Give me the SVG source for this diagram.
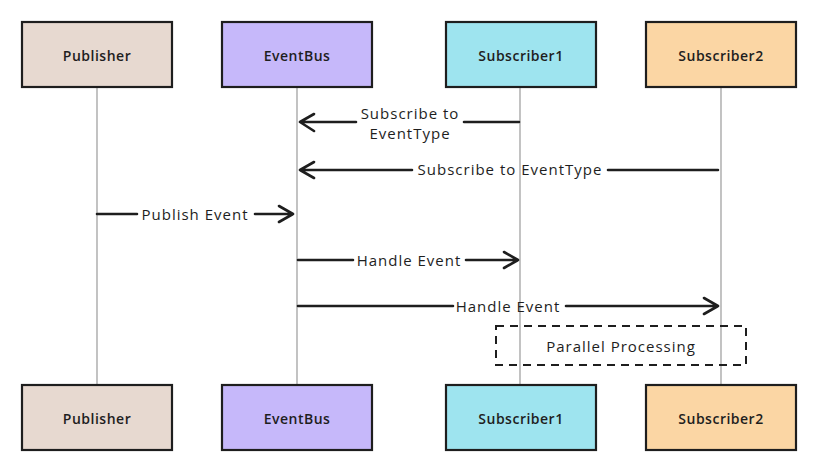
<svg xmlns="http://www.w3.org/2000/svg" width="819" height="471" viewBox="0 0 819 471">
<style>
.box{stroke:#1e1e1e;stroke-width:2.2}
.lbl{font-family:"Open Sans","Liberation Sans",sans-serif;font-size:14px;font-weight:600;fill:#1e1e1e;text-anchor:middle;dominant-baseline:central;letter-spacing:0.5px}
.life{stroke:#9a9a9a;stroke-width:1.2}
.msg{stroke:#1e1e1e;stroke-width:2.6;fill:none;stroke-linecap:round;stroke-linejoin:round}
.mt{font-family:"Open Sans","Liberation Sans",sans-serif;font-size:15px;fill:#1e1e1e;text-anchor:middle;dominant-baseline:central;letter-spacing:1px}
.note{stroke:#1e1e1e;stroke-width:2;fill:none;stroke-dasharray:8 6}
</style>
<rect width="819" height="471" fill="#ffffff"/>
<g id="lifelines">
<line class="life" x1="97" y1="87" x2="97" y2="385"/>
<line class="life" x1="297" y1="87" x2="297" y2="385"/>
<line class="life" x1="520" y1="87" x2="520" y2="385"/>
<line class="life" x1="721" y1="87" x2="721" y2="385"/>
</g>
<g id="publisher">
<rect class="box" x="22" y="22" width="150" height="65" fill="#e7d9d0"/>
<text class="lbl" x="97" y="55">Publisher</text>
</g>
<g id="eventbus">
<rect class="box" x="222" y="22" width="150" height="65" fill="#c6b8fa"/>
<text class="lbl" x="297" y="55">EventBus</text>
</g>
<g id="subscriber1">
<rect class="box" x="446" y="22" width="150" height="65" fill="#9ee4ef"/>
<text class="lbl" x="521" y="55">Subscriber1</text>
</g>
<g id="subscriber2">
<rect class="box" x="646" y="22" width="150" height="65" fill="#fbd6a4"/>
<text class="lbl" x="721" y="55">Subscriber2</text>
</g>
<g id="publisher-bottom">
<rect class="box" x="22" y="385" width="150" height="65" fill="#e7d9d0"/>
<text class="lbl" x="97" y="418">Publisher</text>
</g>
<g id="eventbus-bottom">
<rect class="box" x="222" y="385" width="150" height="65" fill="#c6b8fa"/>
<text class="lbl" x="297" y="418">EventBus</text>
</g>
<g id="subscriber1-bottom">
<rect class="box" x="446" y="385" width="150" height="65" fill="#9ee4ef"/>
<text class="lbl" x="521" y="418">Subscriber1</text>
</g>
<g id="subscriber2-bottom">
<rect class="box" x="646" y="385" width="150" height="65" fill="#fbd6a4"/>
<text class="lbl" x="721" y="418">Subscriber2</text>
</g>
<g id="connectors">
<path class="msg" d="M519 122 H464 M356 122 H300 M314 114 L300 122 L314 131"/>
<text class="mt" x="410" y="113">Subscribe to</text>
<text class="mt" x="410" y="133">EventType</text>
<path class="msg" d="M718 170 H608 M412 170 H300 M314 162 L300 170 L314 178"/>
<text class="mt" x="510" y="169">Subscribe to EventType</text>
<path class="msg" d="M97 214 H137 M255 214 H293 M279 206 L293 214 L279 222"/>
<text class="mt" x="195" y="214">Publish Event</text>
<path class="msg" d="M298 260 H353 M466 260 H518 M504 252 L518 260 L504 268"/>
<text class="mt" x="409" y="260">Handle Event</text>
<path class="msg" d="M298 306 H453 M566 306 H718 M704 298 L718 306 L704 314"/>
<text class="mt" x="508" y="306">Handle Event</text>
</g>
<g id="parallel-note">
<rect class="note" x="496" y="326" width="250" height="39"/>
<text class="mt" x="621" y="346">Parallel Processing</text>
</g>
</svg>
